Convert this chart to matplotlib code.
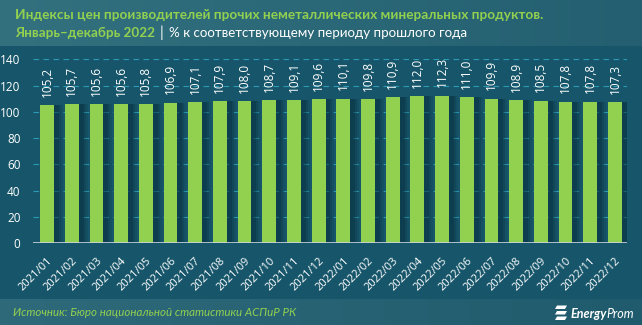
import numpy as np
import matplotlib.pyplot as plt
import matplotlib.transforms as mtransforms
from matplotlib.patches import Polygon
from matplotlib.colors import LinearSegmentedColormap

# ── data ──────────────────────────────────────────────────────────────────────
months = ["2021/01", "2021/02", "2021/03", "2021/04", "2021/05", "2021/06",
          "2021/07", "2021/08", "2021/09", "2021/10", "2021/11", "2021/12",
          "2022/01", "2022/02", "2022/03", "2022/04", "2022/05", "2022/06",
          "2022/07", "2022/08", "2022/09", "2022/10", "2022/11", "2022/12"]
index_values = [105.2, 105.7, 105.6, 105.6, 105.8, 106.9,
                107.1, 107.9, 108.0, 108.7, 109.1, 109.6,
                110.1, 109.8, 110.9, 112.0, 112.3, 111.0,
                109.9, 108.9, 108.5, 107.8, 107.8, 107.3]
y_ticks = [0, 20, 40, 60, 80, 100, 120, 140]

title_line1 = "Индексы цен производителей прочих неметаллических минеральных продуктов."
title_green = "Январь–декабрь 2022"
title_white = "% к соответствующему периоду прошлого года"
source_text = "Источник: Бюро национальной статистики АСПиР РК"

# ── colours ───────────────────────────────────────────────────────────────────
BG = "#17566a"
GREEN = "#92d050"
GRID = "#2b9ab5"

plt.rcParams["font.family"] = ["Open Sans", "DejaVu Sans"]

W, H = 642, 325
fig = plt.figure(figsize=(W / 100, H / 100), dpi=100, facecolor=BG)


# header / footer bands with a soft horizontal gradient
def band(y0, h, c_left, c_right):
    bax = fig.add_axes([0, y0 / H, 1, h / H])
    grad = np.linspace(0, 1, 256).reshape(1, -1)
    cmap = LinearSegmentedColormap.from_list("b", [c_left, c_right])
    bax.imshow(grad, aspect="auto", cmap=cmap, extent=[0, 1, 0, 1])
    bax.set_axis_off()
    return bax


band(H - 46, 46, "#33717f", "#235f70")
band(0, 26, "#2f6a7b", "#1f5b6c")

# ── main chart ────────────────────────────────────────────────────────────────
ax = fig.add_axes([33 / W, 1 - 243 / H, (627 - 33) / W, (243 - 59.3) / H])
ax.set_facecolor("none")
x = np.arange(len(months))

# soft shadow to the right of each bar
for off, a in [(0.36, 0.15), (0.28, 0.2), (0.2, 0.28)]:
    ax.bar(x + off, index_values, width=0.56, color="#062a36", alpha=a,
           zorder=2, linewidth=0)
ax.bar(x, index_values, width=0.56, color=GREEN, zorder=3, linewidth=0)

for xi, v in zip(x, index_values):
    ax.annotate(f"{v:.1f}".replace(".", ","), (xi, v), xytext=(0, 6),
                textcoords="offset points", rotation=90, ha="center",
                va="bottom", color="white", fontsize=8.5, zorder=4)

ax.set_xlim(-0.57, 23.49)
ax.set_ylim(0, 140)
ax.set_yticks(y_ticks)
for t in y_ticks[1:]:
    ax.axhline(t, color=GRID, linestyle=(0, (5, 4)), linewidth=0.8, zorder=1)
ax.axhline(0, color="#c9d6dc", linewidth=1.2, zorder=4)

ax.set_xticks(x)
ax.set_xticklabels(months, rotation=45, ha="right", rotation_mode="anchor",
                   color="white", fontsize=8)
shift = mtransforms.ScaledTranslation(3 / 100, 0, fig.dpi_scale_trans)
for lab in ax.get_xticklabels():
    lab.set_transform(lab.get_transform() + shift)
ax.tick_params(axis="x", length=0, pad=9)
ax.tick_params(axis="y", length=0, pad=9, colors="white", labelsize=8.5)
for s in ax.spines.values():
    s.set_visible(False)

# ── header texts ──────────────────────────────────────────────────────────────
HFONT = ["Lato", "DejaVu Sans"]
fig.text(15 / W, 1 - 15 / H, title_line1, color=GREEN, fontsize=9.8,
         fontweight="bold", va="center", ha="left", family=HFONT)
t2 = fig.text(15 / W, 1 - 33 / H, title_green, color=GREEN, fontsize=9.7,
              fontweight="bold", va="center", ha="left", family=HFONT)
fig.canvas.draw()
bb = t2.get_window_extent()
fig.text((bb.x1 + 5) / W, 1 - 33 / H, "|", color="white", fontsize=11,
         va="center", ha="left", family=HFONT)
fig.text((bb.x1 + 14) / W, 1 - 33 / H, title_white, color="white",
         fontsize=9.6, va="center", ha="left", family=HFONT)

# ── footer ────────────────────────────────────────────────────────────────────
fig.text(13 / W, 13 / H, source_text, color=GREEN, fontsize=8.3,
         style="italic", va="center", ha="left", family=HFONT)
te = fig.text(571 / W, 11 / H, "Energy", color="white", fontsize=9,
              fontweight="bold", style="italic", va="center", ha="left",
              family=HFONT)
fig.canvas.draw()
be = te.get_window_extent()
fig.text((be.x1 - 1) / W, 11 / H, "Prom", color="white", fontsize=9,
         style="italic", va="center", ha="left", family=HFONT)
# logo: three skewed stripes
for k in range(3):
    y0 = 5 + k * 5.5
    fig.patches.append(Polygon([[555 / W, y0 / H], [565 / W, y0 / H],
                                [567 / W, (y0 + 3.5) / H],
                                [557 / W, (y0 + 3.5) / H]],
                               closed=True, transform=fig.transFigure,
                               facecolor="white", edgecolor="none"))

fig.savefig("out.png", dpi=100, facecolor=BG)
